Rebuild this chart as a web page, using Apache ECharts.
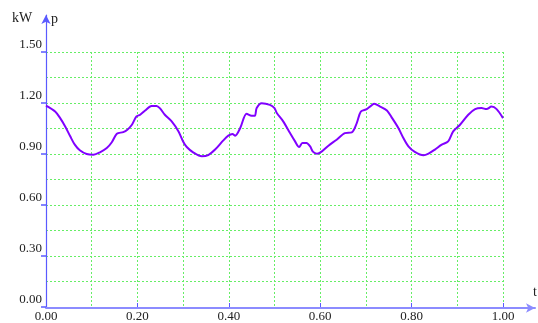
<!DOCTYPE html>
<html>
<head>
<meta charset="utf-8">
<script src="https://cdn.jsdelivr.net/npm/echarts@6/dist/echarts.min.js"></script>
<style>
  html, body { margin: 0; padding: 0; background: #fff; }
  #chart { width: 538px; height: 323px; }
</style>
</head>
<body>
<div id="chart"></div>
<script>
// Active power p (kW) over time t
const tValues = [0.000, 0.020, 0.031, 0.042, 0.053, 0.063, 0.074, 0.089, 0.104, 0.118,
  0.133, 0.144, 0.155, 0.169, 0.178, 0.188, 0.198, 0.206, 0.217, 0.231,
  0.242, 0.249, 0.260, 0.275, 0.290, 0.300, 0.308, 0.322, 0.341, 0.355,
  0.370, 0.388, 0.399, 0.408, 0.414, 0.425, 0.439, 0.450, 0.457, 0.461,
  0.472, 0.490, 0.500, 0.505, 0.519, 0.534, 0.545, 0.554, 0.561, 0.570,
  0.578, 0.584, 0.593, 0.603, 0.618, 0.636, 0.654, 0.669, 0.680, 0.689,
  0.702, 0.709, 0.718, 0.731, 0.746, 0.756, 0.771, 0.782, 0.793, 0.807,
  0.826, 0.837, 0.851, 0.866, 0.880, 0.891, 0.906, 0.924, 0.939, 0.953,
  0.964, 0.975, 0.986, 1.000];
const pValues = [1.185, 1.150, 1.111, 1.062, 1.004, 0.955, 0.922, 0.900, 0.896, 0.910,
  0.935, 0.969, 1.019, 1.029, 1.043, 1.072, 1.121, 1.131, 1.156, 1.183,
  1.183, 1.170, 1.131, 1.092, 1.033, 0.974, 0.941, 0.910, 0.887, 0.894,
  0.926, 0.980, 1.008, 1.018, 1.008, 1.053, 1.137, 1.125, 1.125, 1.170,
  1.199, 1.189, 1.170, 1.141, 1.092, 1.023, 0.974, 0.941, 0.965, 0.965,
  0.945, 0.914, 0.902, 0.914, 0.949, 0.984, 1.023, 1.027, 1.082, 1.150,
  1.164, 1.179, 1.195, 1.179, 1.156, 1.117, 1.053, 0.994, 0.945, 0.912,
  0.892, 0.902, 0.926, 0.955, 0.974, 1.033, 1.072, 1.131, 1.164, 1.170,
  1.164, 1.179, 1.164, 1.111];

const yMin = 0, yMax = 1.5, yStep = 0.3;
const xMin = 0, xMax = 1.0, xStep = 0.2;

const seriesData = tValues.map((t, i) => [t, pValues[i]]);

const labelFont = { fontFamily: 'Liberation Serif', fontSize: 13, color: '#222' };
const gridLine = { show: true, lineStyle: { color: '#66ee66', type: [2, 2], width: 1 } };
const axisBlue = '#5a5aff';

const chart = echarts.init(document.getElementById('chart'), null, { renderer: 'canvas' });
chart.setOption({
  animation: false,
  grid: [
    { left: 46, right: 35, top: 52, bottom: 15 },
    { left: 46, right: 3, top: 15, bottom: 15 }
  ],
  xAxis: [
    {
      type: 'value', gridIndex: 0, min: xMin, max: xMax, interval: xStep,
      axisLine: { show: false },
      axisTick: { show: true, inside: true, length: 4, lineStyle: { color: axisBlue } },
      axisLabel: Object.assign({ margin: 3, formatter: v => v.toFixed(2) }, labelFont),
      splitLine: gridLine,
      minorTick: { show: false, splitNumber: 2 },
      minorSplitLine: gridLine
    },
    {
      type: 'value', gridIndex: 1, min: 0, max: 1,
      axisLine: { show: true, symbol: ['none', 'arrow'], symbolSize: [7, 9],
        lineStyle: { color: '#8c8cff', width: 2 } },
      axisTick: { show: false }, axisLabel: { show: false }, splitLine: { show: false }
    }
  ],
  yAxis: [
    {
      type: 'value', gridIndex: 0, min: yMin, max: yMax, interval: yStep,
      axisLine: { show: false },
      axisTick: { show: true, length: 5, lineStyle: { color: axisBlue, width: 1.5 } },
      axisLabel: Object.assign({ margin: 4, verticalAlign: 'bottom', lineHeight: 14,
        formatter: v => v.toFixed(2) }, labelFont),
      splitLine: gridLine,
      minorTick: { show: false, splitNumber: 2 },
      minorSplitLine: gridLine
    },
    {
      type: 'value', gridIndex: 1, min: 0, max: 1,
      axisLine: { show: true, symbol: ['none', 'arrow'], symbolSize: [7, 9],
        lineStyle: { color: axisBlue, width: 1.2 } },
      axisTick: { show: false }, axisLabel: { show: false }, splitLine: { show: false }
    }
  ],
  graphic: [
    { type: 'text', left: 12, top: 11, style: { text: 'kW', font: '14px "Liberation Serif"', fill: '#222' } },
    { type: 'text', left: 51, top: 12, style: { text: 'p', font: '14px "Liberation Serif"', fill: '#222' } },
    { type: 'text', left: 533, top: 285, style: { text: 't', font: '14px "Liberation Serif"', fill: '#222' } }
  ],
  series: [{
    type: 'line',
    xAxisIndex: 0, yAxisIndex: 0,
    data: seriesData,
    showSymbol: false,
    smooth: 0.3,
    lineStyle: { color: '#8000ff', width: 2 },
    z: 5
  }]
});
</script>
</body>
</html>
